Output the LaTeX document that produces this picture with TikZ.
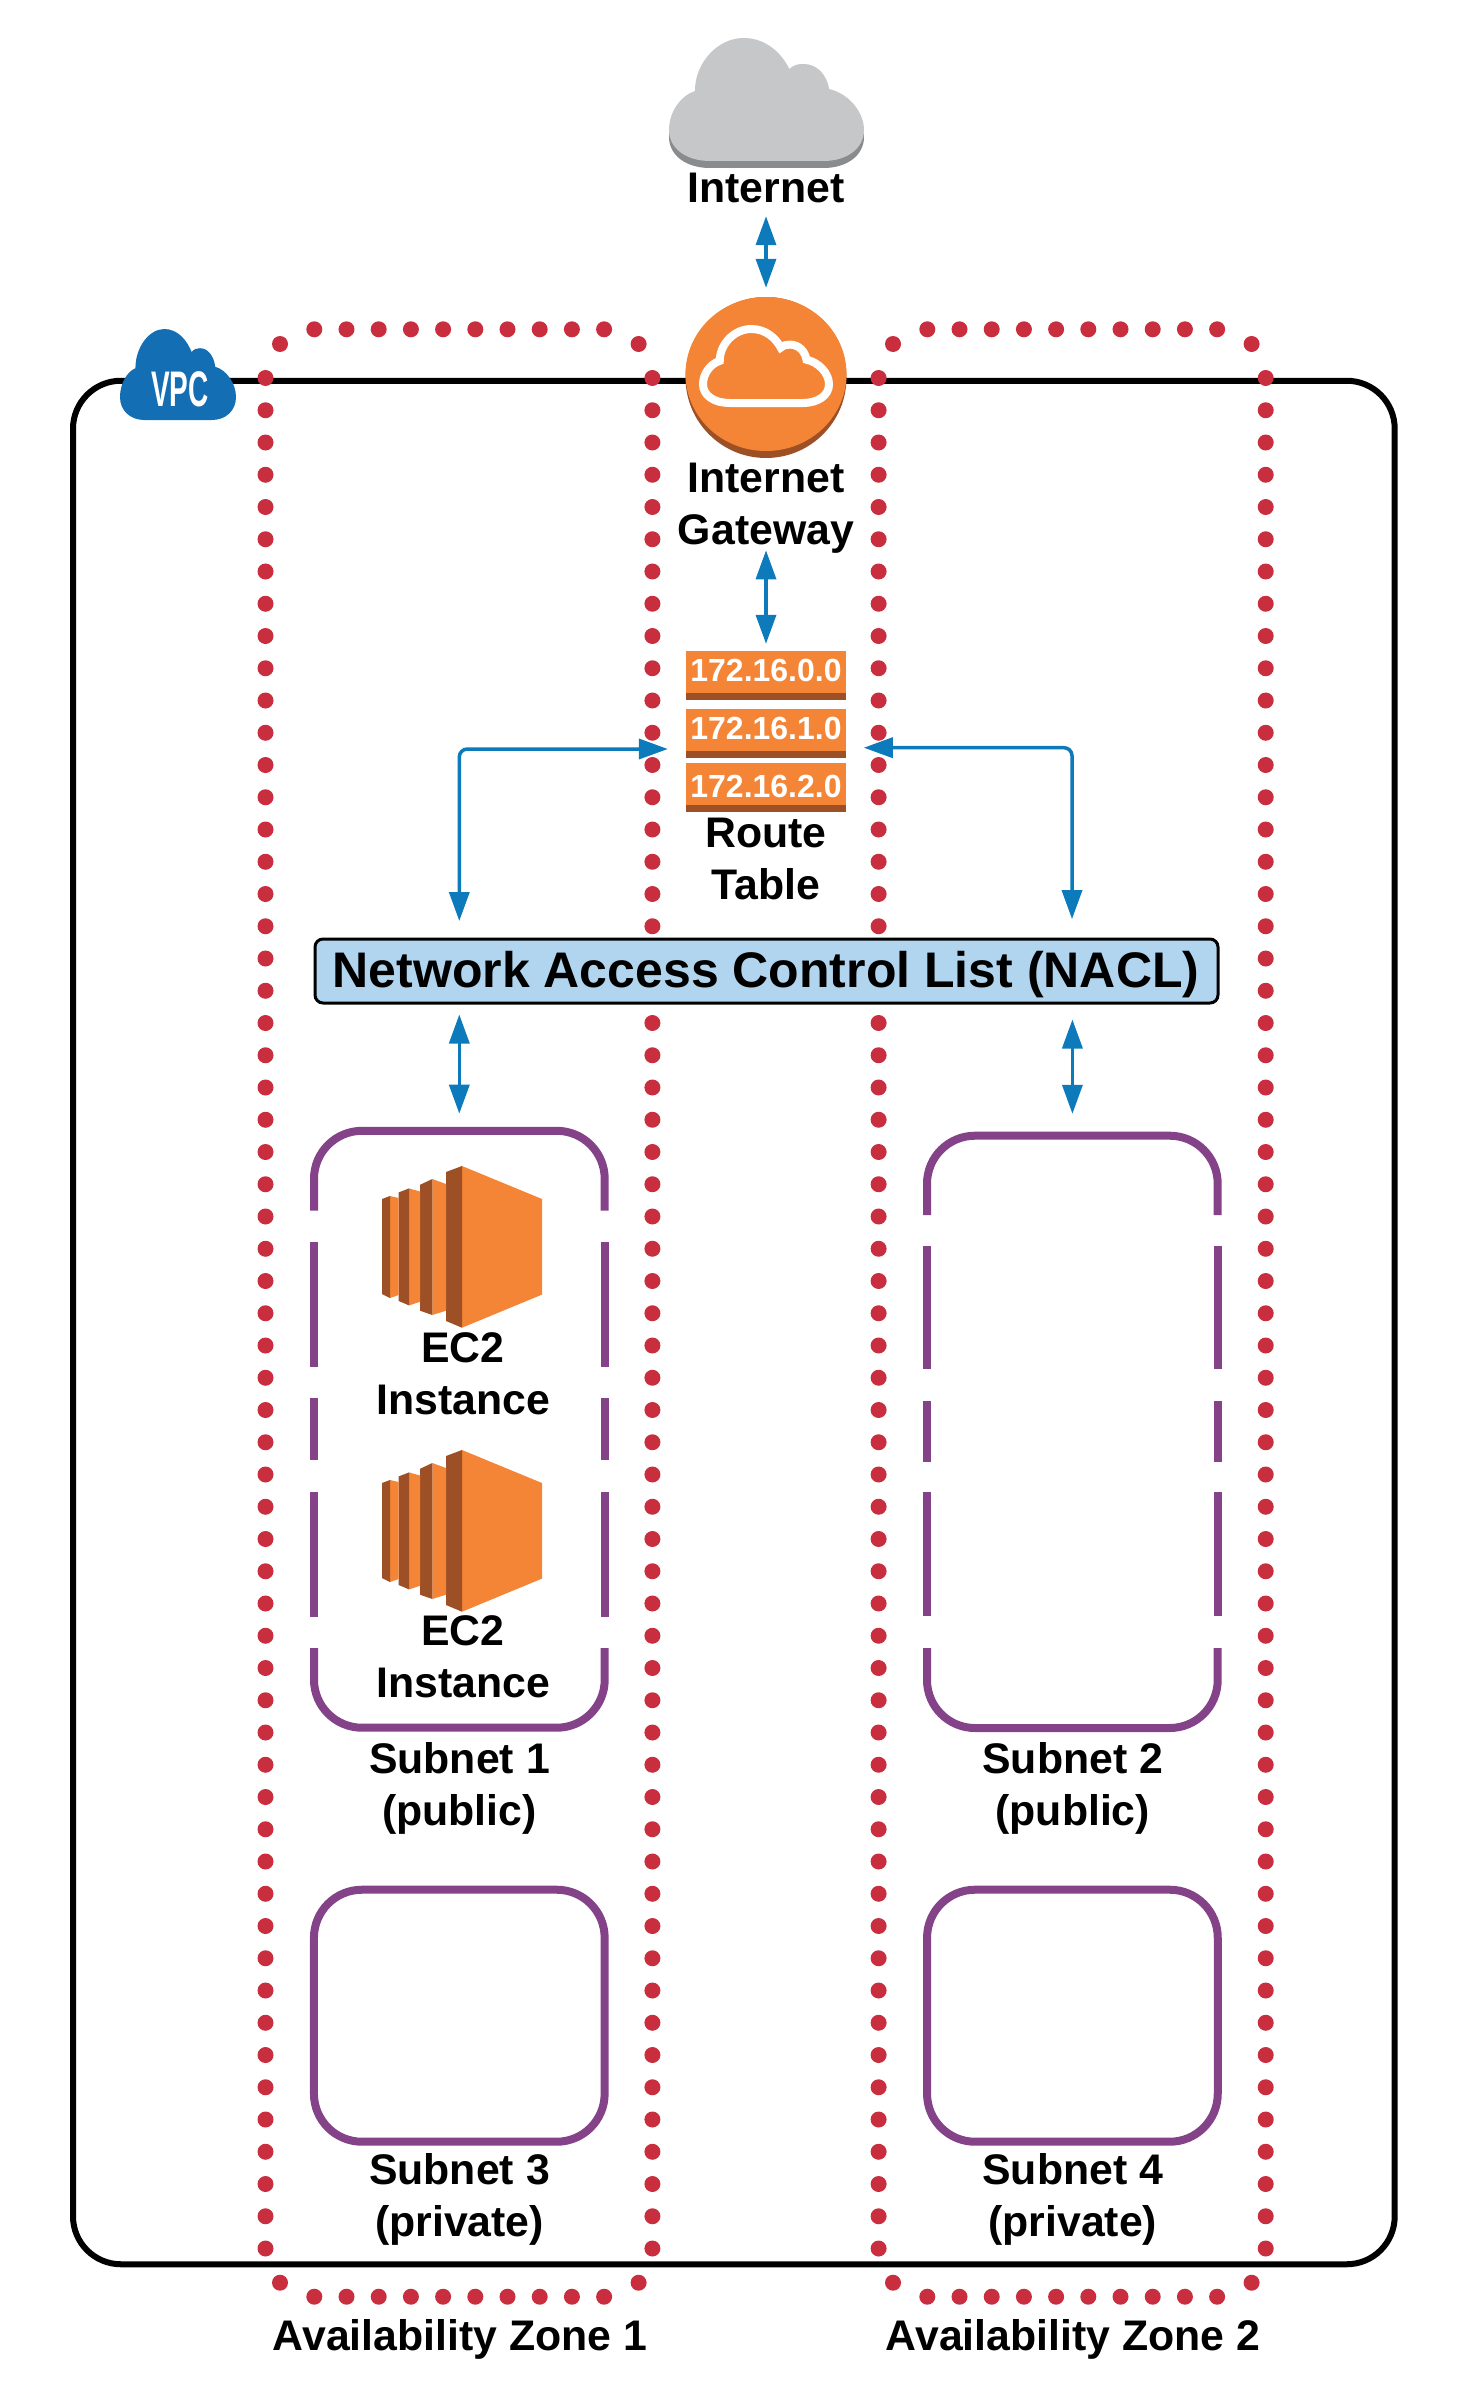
\documentclass[tikz,border=0pt]{standalone}
\usepackage{fontspec}
\setmainfont{Liberation Sans}
\usetikzlibrary{arrows.meta}
\definecolor{awsorange}{HTML}{F58536}
\definecolor{awsdark}{HTML}{9D5025}
\definecolor{dotred}{HTML}{C82E3E}
\definecolor{subnetpurple}{HTML}{844289}
\definecolor{arrowblue}{HTML}{0D7BBB}
\definecolor{vpcblue}{HTML}{146EB4}
\definecolor{cloudgrey}{HTML}{C6C7C8}
\definecolor{clouddark}{HTML}{8A8B8C}
\definecolor{naclblue}{HTML}{B2D5EF}
\newcommand{\cloudshape}{(0.21,1) .. controls (0.09,1) and (0,0.9) .. (0,0.748)
  .. controls (0,0.6) and (0.06,0.47) .. (0.133,0.431)
  .. controls (0.133,0.2) and (0.25,0) .. (0.383,0)
  .. controls (0.5,0) and (0.58,0.13) .. (0.617,0.252)
  .. controls (0.64,0.22) and (0.66,0.211) .. (0.689,0.211)
  .. controls (0.76,0.211) and (0.81,0.3) .. (0.821,0.415)
  .. controls (0.92,0.45) and (1,0.6) .. (1,0.748)
  .. controls (1,0.9) and (0.91,1) .. (0.793,1) -- cycle}
\tikzset{
  lbl/.style={inner sep=0pt,align=center,font=\fontsize{42.8}{52}\selectfont\bfseries},
  rtbox/.style={fill=awsorange,inner sep=0pt,minimum width=160.7pt,minimum height=49pt},
  rttext/.style={inner sep=0pt,text=white,font=\fontsize{32}{38}\selectfont\bfseries},
  conn/.style={draw=arrowblue,line width=3.5pt,{Triangle[length=29pt,width=20pt]}-{Triangle[length=29pt,width=20pt]}},
  subnetline/.style={draw=subnetpurple,line width=8pt},
  vpcbox/.style={draw=black,line width=6pt,rounded corners=48pt,inner sep=0pt,minimum width=1321.7pt,minimum height=1883.5pt},
  naclbox/.style={draw=black,fill=naclblue,line width=3pt,rounded corners=8pt,inner sep=0pt,minimum width=903pt,minimum height=64pt},
  nacltext/.style={inner sep=0pt,font=\fontsize{50}{60}\selectfont\bfseries},
  subnetbox/.style={draw=subnetpurple,line width=8pt,rounded corners=48pt,inner sep=0pt,minimum width=290.7pt,minimum height=252pt},
  subnetframe/.style={inner sep=0pt,minimum width=290.7pt,minimum height=#1},
}
\begin{document}
\begin{tikzpicture}[x=1pt,y=-1pt]
\useasboundingbox (0,0) rectangle (1462,2400);
% VPC
\node[vpcbox] (vpc) at (733.85,1322.5) {};
% availability zone dots
\foreach \cx in {265.5,652.4,878.6,1265.7}{
  \foreach \k in {0,...,58}{
    \fill[dotred] (\cx,378+32.25*\k) circle[radius=8];
  }
}
\foreach \ox in {0,613}{
  \foreach \k in {0,...,9}{
    \fill[dotred] (314.3+\ox+32.2*\k,329.3) circle[radius=8];
    \fill[dotred] (314.3+\ox+32.2*\k,2296.7) circle[radius=8];
  }
  \foreach \cx in {280,638.6}{
    \fill[dotred] (\cx+\ox,344) circle[radius=8];
    \fill[dotred] (\cx+\ox,2282.7) circle[radius=8];
  }
}
% VPC cloud
\begin{scope}[shift={(120,329)},xscale=116,yscale=91]
  \fill[vpcblue] \cloudshape;
\end{scope}
\node[inner sep=0pt,text=white] (vpclabel) at (180,389) {\scalebox{0.56}[1]{\fontsize{50}{50}\selectfont\bfseries VPC}};
% Internet cloud
\begin{scope}[shift={(669,45)},xscale=195,yscale=123]
  \fill[clouddark] \cloudshape;
\end{scope}
\begin{scope}[shift={(669,38)},xscale=195,yscale=123]
  \fill[cloudgrey] \cloudshape;
\end{scope}
\node[lbl,minimum height=56pt] (internet) at (766,188) {Internet};
% Internet gateway
\node[circle,fill=awsdark,inner sep=0pt,minimum size=161pt] (igw) at (766,377.5) {};
\fill[awsorange] (766,374) ellipse[x radius=80.5,y radius=77];
\begin{scope}[shift={(703,329)},xscale=126,yscale=74]
  \draw[white,line width=8pt] \cloudshape;
\end{scope}
\node[lbl] (igwlabel) at (766,508) {Internet\\Gateway};
% Route table
\foreach \n/\top in {r1/651,r2/708.5,r3/763.4}{
  \node[rtbox] (\n) at (766,\top+24.5) {};
  \fill[awsdark] (685.65,\top+42) rectangle (846.35,\top+49);
}
\node[rttext] (r1t) at (766,670) {172.16.0.0};
\node[rttext] (r2t) at (766,728) {172.16.1.0};
\node[rttext] (r3t) at (766,786) {172.16.2.0};
\node[lbl] (rtlabel) at (766,859) {Route\\Table};
% NACL
\node[naclbox] (nacl) at (766.5,971) {};
\node[nacltext] (nacllabel) at (766,975) {Network Access Control List (NACL)};
% Subnet 1
\node[subnetframe=596.9pt] (s1) at (459.3,1429.3) {};
\draw[subnetline,rounded corners=48pt] (314,1210.7) -- (314,1130.8) -- (604.7,1130.8) -- (604.7,1210.7);
\draw[subnetline,rounded corners=48pt] (314,1648) -- (314,1727.7) -- (604.7,1727.7) -- (604.7,1648);
\foreach \sx in {314,604.7}{
  \draw[subnetline] (\sx,1242) -- (\sx,1366.5);
  \draw[subnetline] (\sx,1398) -- (\sx,1460);
  \draw[subnetline] (\sx,1492) -- (\sx,1616.5);
}
% Subnet 2
\node[subnetframe=592pt] (s2) at (1072.4,1432) {};
\draw[subnetline,rounded corners=48pt] (927,1215) -- (927,1135.7) -- (1217.7,1135.7) -- (1217.7,1215);
\draw[subnetline,rounded corners=48pt] (927,1648) -- (927,1728) -- (1217.7,1728) -- (1217.7,1648);
\foreach \sx in {927,1217.7}{
  \draw[subnetline] (\sx,1246) -- (\sx,1369.3);
  \draw[subnetline] (\sx,1400.7) -- (\sx,1462);
  \draw[subnetline] (\sx,1492) -- (\sx,1616);
}
% Subnets 3 and 4
\node[subnetbox] (s3) at (459.3,2015.7) {};
\node[subnetbox] (s4) at (1072.4,2015.7) {};
% EC2 icons
\foreach \d/\m in {0/a,284/b}{
\begin{scope}[shift={(0,\d)}]
  \fill[awsorange] (462,1166) -- (542,1199) -- (542,1294.6) -- (462,1327.7) -- cycle;
  \fill[awsdark] (446,1172) -- (462,1166) -- (462,1327.7) -- (446,1321) -- cycle;
  \fill[awsorange] (432.3,1179) -- (446,1184) -- (446,1310.7) -- (432.3,1315) -- cycle;
  \fill[awsdark] (420,1184.8) -- (432.3,1179) -- (432.3,1315) -- (420,1310.7) -- cycle;
  \fill[awsorange] (409,1188.4) -- (420,1191.5) -- (420,1301.8) -- (409,1305.4) -- cycle;
  \fill[awsdark] (398.7,1192.4) -- (409,1188.4) -- (409,1305.4) -- (398.7,1301) -- cycle;
  \fill[awsorange] (390,1196) -- (398.7,1198) -- (398.7,1295) -- (390,1298) -- cycle;
  \fill[awsdark] (382,1199) -- (390,1196) -- (390,1298) -- (382,1294) -- cycle;
\end{scope}
}
\node[lbl] (ec1) at (463,1373.5) {EC2\\Instance};
\node[lbl] (ec2) at (463,1657) {EC2\\Instance};
% labels
\node[lbl] (s1label) at (459.5,1788) {Subnet 1\\(public)};
\node[lbl] (s2label) at (1072.7,1788) {Subnet 2\\(public)};
\node[lbl] (s3label) at (459.5,2199) {Subnet 3\\(private)};
\node[lbl] (s4label) at (1072.7,2199) {Subnet 4\\(private)};
\node[lbl] (az1) at (460,2339) {Availability Zone 1};
\node[lbl] (az2) at (1073,2339) {Availability Zone 2};
% connectors
\draw[conn,shorten >=9pt] (internet.south) -- (igw.north);
\draw[conn,shorten >=7pt,shorten <=-3pt] (igwlabel.south) -- (r1.north);
\draw[conn,rounded corners=8pt] ([xshift=-17.6pt,yshift=-16pt]r2.west) -| ([xshift=-307.2pt,yshift=16.5pt]nacl.north);
\draw[conn,rounded corners=8pt] ([xshift=17.2pt,yshift=-14.7pt]r2.east) -| ([xshift=305.5pt,yshift=18.4pt]nacl.north);
\draw[conn] ([xshift=-307.2pt,yshift=-10pt]nacl.south) -- ([yshift=17pt]s1.north);
\draw[conn] ([xshift=305.9pt,yshift=-15pt]nacl.south) -- ([yshift=22pt]s2.north);
\end{tikzpicture}
\end{document}
